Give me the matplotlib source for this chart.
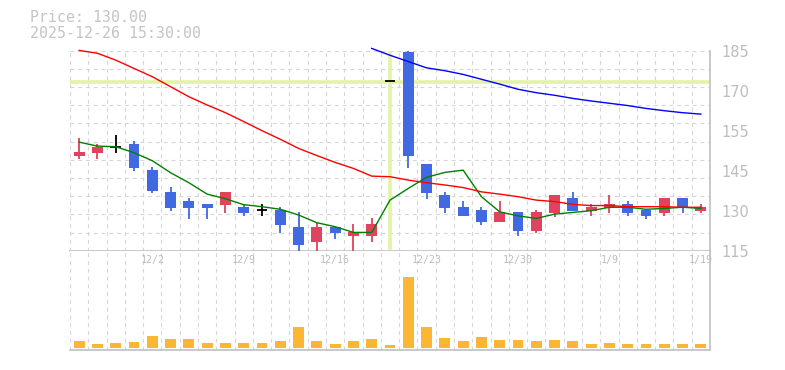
import matplotlib.pyplot as plt
import numpy as np

# daily candles (35 trading days)
dates = ['11/26', '11/27', '11/28', '12/1', '12/2', '12/3', '12/4', '12/5', '12/8', '12/9',
         '12/10', '12/11', '12/12', '12/15', '12/16', '12/17', '12/18', '12/19', '12/22', '12/23',
         '12/24', '12/25', '12/26', '12/29', '12/30', '1/5', '1/6', '1/7', '1/8', '1/9',
         '1/13', '1/14', '1/15', '1/16', '1/19']
opens = [148.3, 149.3, 151.2, 152.3, 143.2, 135.4, 132.3, 131.3, 131.1, 130.2,
         129.2, 129.2, 123.3, 118.2, 123.3, 120.1, 120.1, 174.3, 184.5, 145.3,
         134.5, 130.3, 129.2, 125.2, 128.5, 122.0, 128.3, 133.4, 129.0, 130.0,
         131.3, 129.2, 128.3, 133.4, 129.0]
closes = [149.5, 151.3, 151.2, 144.0, 136.0, 130.0, 130.0, 130.0, 135.4, 128.3,
          129.2, 124.1, 117.1, 123.3, 121.3, 121.5, 124.5, 174.3, 148.2, 135.3,
          130.0, 127.3, 125.2, 128.5, 122.0, 128.5, 134.5, 129.0, 130.4, 131.3,
          128.3, 127.3, 133.4, 130.0, 130.3]
highs = [154.4, 152.3, 155.4, 153.4, 144.3, 137.3, 133.3, 131.3, 135.4, 131.3,
         131.2, 130.2, 128.5, 124.6, 123.3, 124.3, 126.3, 174.3, 185.0, 145.3,
         135.5, 132.4, 130.4, 132.4, 128.5, 129.2, 134.5, 135.5, 131.3, 134.5,
         132.4, 129.2, 133.4, 133.4, 131.3]
lows = [147.2, 147.2, 149.3, 143.0, 135.3, 129.0, 126.1, 126.1, 128.2, 127.1,
        127.3, 121.3, 115.0, 115.0, 119.1, 115.0, 118.2, 174.3, 144.0, 133.2,
        128.2, 127.3, 124.1, 125.2, 120.2, 121.3, 126.9, 129.0, 127.3, 128.3,
        127.3, 126.2, 127.3, 128.3, 128.3]
volume = [7.3, 4, 5, 6, 12, 9, 9, 5, 5, 5,
          5, 7.3, 21.3, 7.3, 4, 7.3, 9, 3, 71.3, 21.3,
          10, 7, 11, 8, 8, 7, 8, 7, 4, 5,
          4, 4, 4, 4, 4]

# moving averages
ma_short = [153.0, 151.6, 151.4, 149.3, 146.5, 142.3, 138.8, 134.8, 133.2, 131.1,
            130.4, 129.5, 127.5, 124.8, 123.4, 121.4, 121.4, 132.7, 136.8, 140.7,
            142.4, 143.2, 133.9, 128.6, 127.2, 126.3, 127.8, 128.4, 129.0, 130.2,
            130.2, 129.5, 129.8, 130.2, 129.8]
ma_mid = [185.1, 184.1, 181.7, 178.8, 175.9, 172.4, 168.9, 166.0, 163.3, 160.2,
          157.0, 154.0, 150.8, 148.3, 145.9, 143.8, 141.1, 140.9, 139.7, 138.8,
          138.0, 137.1, 135.6, 134.8, 133.9, 132.7, 132.2, 131.2, 130.8, 130.8,
          130.4, 130.4, 130.4, 130.2, 130.2]
ma_long = [np.nan] * 16 + [185.8, 183.4, 181.2, 179.0, 178.0, 176.7, 175.0, 173.3, 171.5,
                           170.3, 169.4, 168.3, 167.4, 166.6, 165.8, 164.8, 164.0, 163.3, 162.8]

ytick_vals = [185, 171, 157, 143, 129, 115]
ytick_labels = ['185', '170', '155', '145', '130', '115']
xlabel_days = ['12/2', '12/9', '12/16', '12/23', '12/30', '1/9', '1/19']
cross_price = 174.2
cross_day = 17

up_col = '#e0435e'
down_col = '#4169e1'
grid_col = '#d6d6d6'
text_col = '#bdbdbd'

fig = plt.figure(figsize=(7.85, 3.7), dpi=100)
ax = fig.add_axes([70 / 785, 119.3 / 370, 640 / 785, 200 / 370])
axv = fig.add_axes([70 / 785, 20 / 370, 640 / 785, 99.3 / 370])

n = len(dates)
x = np.arange(n)

for a in (ax, axv):
    a.set_xlim(-0.5, n - 0.5)
    for s in ('top', 'left'):
        a.spines[s].set_visible(False)
    for s in ('bottom', 'right'):
        a.spines[s].set_color('#c0c0c0')
        a.spines[s].set_linewidth(1.2)
    a.set_xticks([])
    # vertical dashed grid between days
    for i in range(n):
        a.axvline(i - 0.5, color=grid_col, lw=0.8, ls=(0, (3.5, 3.5)), zorder=0)

ax.set_ylim(115, 185)
for g in np.linspace(115, 185, 12)[1:]:
    ax.axhline(g, color=grid_col, lw=0.8, ls=(0, (3.5, 3.5)), zorder=0)

ax.set_yticks(ytick_vals)
ax.set_yticklabels(ytick_labels)
ax.yaxis.tick_right()
ax.tick_params(axis='y', length=0, pad=8, labelsize=10.5, labelcolor=text_col)
for t in ax.get_yticklabels():
    t.set_verticalalignment('center_baseline')

# crosshair
ax.axhline(cross_price, color='#e3f3a6', lw=2.6, zorder=1)
ax.axvline(cross_day, ymin=0.015, ymax=1.0, color='#e3f3a6', lw=2.6, zorder=1)

# candles
w = 0.6
for i in x:
    o, c, h, l = opens[i], closes[i], highs[i], lows[i]
    if o == c:
        ax.vlines(i, l, h, color='black', lw=1.3, zorder=3)
        ax.hlines(o, i - w / 2, i + w / 2, color='black', lw=1.3, zorder=3)
        continue
    col = up_col if c > o else down_col
    ax.vlines(i, l, h, color=col, lw=1.3, zorder=3)
    ax.bar(i, abs(c - o), bottom=min(o, c), width=w, color=col, zorder=3)

ax.plot(x, ma_short, color='green', lw=1.0, zorder=4, clip_on=False)
ax.plot(x, ma_mid, color='red', lw=1.0, zorder=4, clip_on=False)
ax.plot(x, ma_long, color='blue', lw=1.0, zorder=4, clip_on=False)

# volume panel
axv.set_ylim(-2, 97.3)
axv.set_yticks([])
axv.bar(x, volume, width=w, color='#fbb634', zorder=3)
for d in xlabel_days:
    i = dates.index(d)
    axv.text(i, 88.5, d, ha='center', va='center', fontsize=7.2, color=text_col,
             family='DejaVu Sans Mono', clip_on=False)

fig.text(30 / 785, 1 - 17.5 / 370, 'Price: 130.00', fontsize=10.7, color='#c4c4c4',
         family='DejaVu Sans Mono', va='center')
fig.text(30 / 785, 1 - 33.3 / 370, '2025-12-26 15:30:00', fontsize=10.7, color='#c4c4c4',
         family='DejaVu Sans Mono', va='center')

fig.savefig('out.png', dpi=100)
